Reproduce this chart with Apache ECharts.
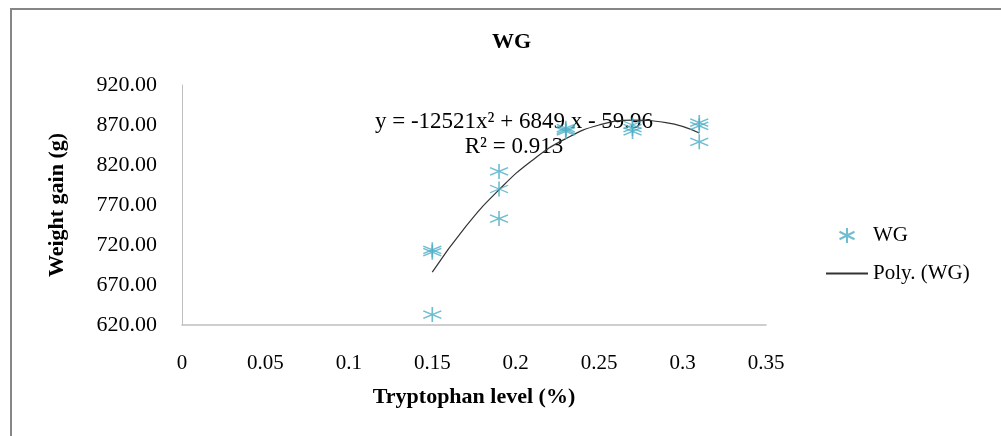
<!DOCTYPE html>
<html>
<head>
<meta charset="utf-8">
<title>WG</title>
<script src="https://cdn.jsdelivr.net/npm/echarts@6/dist/echarts.min.js"></script>
<style>
  html, body { margin: 0; padding: 0; background: #fff; }
  #chart { width: 1001px; height: 436px; }
</style>
</head>
<body>
<div id="chart"></div>
<script>
// tryptophan level (%) of each replicate and its weight gain (g)
const levels = [0.15, 0.15, 0.15, 0.19, 0.19, 0.19, 0.23, 0.23, 0.23, 0.27, 0.27, 0.27, 0.31, 0.31, 0.31]
const weightGain = [714, 711, 633, 812, 790, 753, 866, 864, 862, 870, 866, 862, 873, 869, 849]

// points
const trendX = [0.15, 0.17, 0.19, 0.21, 0.23, 0.25, 0.27, 0.29, 0.31]
const trendY = [686, 743, 789, 826, 853, 870, 876, 873, 860]

const yTicks = [620, 670, 720, 770, 820, 870, 920]
const xTicks = [0, 0.05, 0.1, 0.15, 0.2, 0.25, 0.3, 0.35]

const serif = "'Liberation Serif', 'DejaVu Serif', serif"
const starSymbol = 'path://M5,0L5,10M0,2.5L10,7.5M0,7.5L10,2.5'

const chart = echarts.init(document.getElementById('chart'))

chart.setOption({
  backgroundColor: '#ffffff',
  animation: false,
  title: {
    text: 'WG',
    left: 492,
    top: 31,
    padding: 0,
    textStyle: { fontFamily: serif, fontSize: 22, fontWeight: 'bold', color: '#000' }
  },
  legend: {
    orient: 'vertical',
    left: 820,
    top: 220,
    itemWidth: 42,
    itemHeight: 15,
    itemGap: 17,
    textStyle: { fontFamily: serif, fontSize: 21, color: '#000' },
    data: [
      { name: 'WG' },
      { name: 'Poly. (WG)', itemStyle: { opacity: 0 } }
    ]
  },
  grid: { left: 182, right: 235, top: 85, bottom: 111 },
  xAxis: {
    type: 'value',
    min: 0,
    max: 0.35,
    interval: 0.05,
    name: 'Tryptophan level (%)',
    nameLocation: 'middle',
    nameGap: 61,
    nameTextStyle: { fontFamily: serif, fontSize: 22, fontWeight: 'bold', color: '#000' },
    axisLine: { show: true, lineStyle: { color: '#bfbfbf', width: 1.5 } },
    axisTick: { show: false },
    splitLine: { show: false },
    axisLabel: {
      customValues: xTicks,
      margin: 28,
      fontFamily: serif,
      fontSize: 21,
      color: '#000'
    }
  },
  yAxis: {
    type: 'value',
    min: 620,
    max: 920,
    name: 'Weight gain (g)',
    nameLocation: 'middle',
    nameGap: 114,
    nameTextStyle: { fontFamily: serif, fontSize: 22, fontWeight: 'bold', color: '#000' },
    axisLine: { show: true, lineStyle: { color: '#bfbfbf', width: 1 } },
    axisTick: { show: false },
    splitLine: { show: false },
    axisLabel: {
      customValues: yTicks,
      formatter: v => v.toFixed(2),
      margin: 25,
      fontFamily: serif,
      fontSize: 22,
      color: '#000'
    }
  },
  graphic: [
    {
      type: 'rect',
      silent: true,
      shape: { x: 11, y: 9, width: 1100, height: 600 },
      style: { fill: 'none', stroke: '#868686', lineWidth: 2 }
    },
    {
      type: 'text',
      x: 514,
      y: 110,
      style: { text: 'y = -12521x² + 6849 x - 59.96', font: '23px ' + serif, fill: '#000', align: 'center' }
    },
    {
      type: 'text',
      x: 514,
      y: 135,
      style: { text: 'R² = 0.913', font: '23px ' + serif, fill: '#000', align: 'center' }
    }
  ],
  series: [
    {
      name: 'WG',
      type: 'scatter',
      symbol: starSymbol,
      symbolSize: [18, 15],
      itemStyle: { color: 'rgba(0,0,0,0)', borderColor: '#4bacc6', borderWidth: 1.5 },
      data: levels.map((x, i) => [x, weightGain[i]]),
      z: 3
    },
    {
      name: 'Poly. (WG)',
      type: 'line',
      smooth: true,
      symbol: 'none',
      lineStyle: { color: '#333333', width: 1.2 },
      itemStyle: { color: '#333333' },
      data: trendX.map((x, i) => [x, trendY[i]]),
      z: 2
    }
  ]
})
</script>
</body>
</html>
